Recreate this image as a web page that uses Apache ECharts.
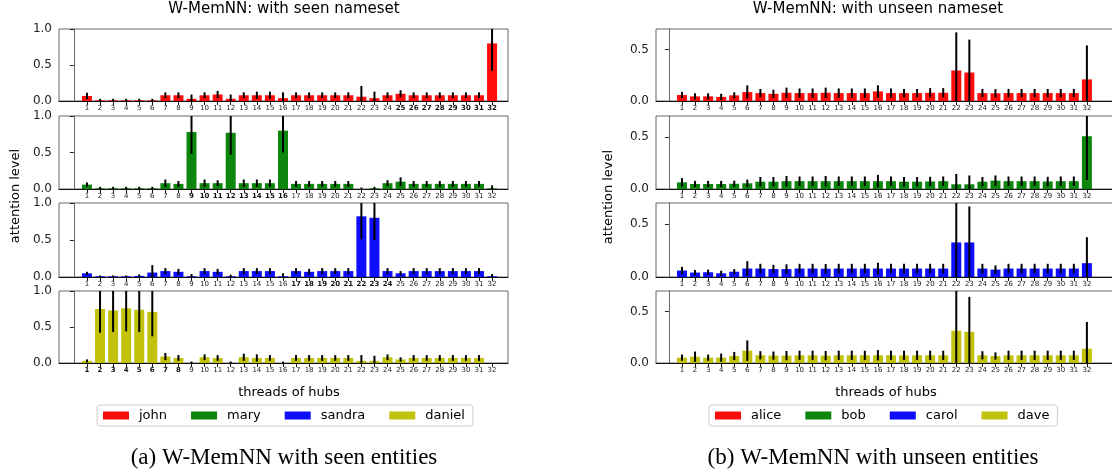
<!DOCTYPE html>
<html>
<head>
<meta charset="utf-8">
<script src="https://cdn.jsdelivr.net/npm/echarts@6/dist/echarts.min.js"></script>
<style>html,body{margin:0;padding:0;background:#fff}#c{width:1112px;height:471px}</style>
</head>
<body>
<div id="c"></div>
<script>
// ---- tick labels ----
const threads = [1,2,3,4,5,6,7,8,9,10,11,12,13,14,15,16,17,18,19,20,21,22,23,24,25,26,27,28,29,30,31,32];
const yTicksSeen = [0, 0.5, 1.0];
const yTicksUnseen = [0, 0.5];

// ---- seen nameset ----
const johnVals = [0.07,0.01,0.01,0.01,0.01,0.01,0.08,0.08,0.03,0.08,0.09,0.03,0.08,0.08,0.08,0.04,0.08,0.08,0.08,0.08,0.08,0.06,0.04,0.08,0.10,0.08,0.08,0.08,0.08,0.08,0.08,0.80];
const johnErr  = [0.045,0.02,0.02,0.02,0.02,0.02,0.04,0.04,0.06,0.04,0.05,0.06,0.04,0.05,0.05,0.08,0.04,0.04,0.04,0.04,0.04,0.15,0.09,0.04,0.05,0.04,0.04,0.04,0.04,0.04,0.04,0.38];
const johnBold = [25,26,27,28,29,30,31,32];

const maryVals = [0.06,0.01,0.01,0.01,0.01,0.01,0.08,0.07,0.78,0.08,0.08,0.77,0.08,0.08,0.08,0.80,0.07,0.07,0.07,0.07,0.07,0.00,0.01,0.08,0.10,0.07,0.07,0.07,0.07,0.07,0.07,0.01];
const maryErr  = [0.03,0.02,0.02,0.02,0.02,0.02,0.05,0.04,0.30,0.05,0.04,0.30,0.05,0.05,0.05,0.30,0.04,0.04,0.04,0.04,0.04,0.02,0.02,0.04,0.06,0.04,0.04,0.04,0.04,0.04,0.04,0.04];
const maryBold = [9,10,11,12,13,14,15,16];

const sandraVals = [0.05,0.01,0.01,0.01,0.015,0.06,0.08,0.07,0.01,0.08,0.07,0.01,0.08,0.08,0.08,0.01,0.08,0.07,0.08,0.08,0.08,0.82,0.80,0.08,0.05,0.08,0.08,0.08,0.08,0.08,0.08,0.01];
const sandraErr  = [0.02,0.01,0.01,0.01,0.02,0.10,0.04,0.04,0.03,0.04,0.04,0.02,0.04,0.04,0.04,0.04,0.04,0.04,0.04,0.04,0.04,0.31,0.30,0.04,0.03,0.04,0.04,0.04,0.04,0.04,0.04,0.03];
const sandraBold = [17,18,19,20,21,22,23,24];

const danielVals = [0.03,0.75,0.73,0.76,0.74,0.71,0.09,0.07,0.0,0.08,0.07,0.0,0.08,0.07,0.07,0.0,0.07,0.07,0.07,0.07,0.07,0.03,0.03,0.08,0.05,0.07,0.07,0.07,0.07,0.07,0.07,0.0];
const danielErr  = [0.02,0.33,0.30,0.32,0.31,0.34,0.05,0.04,0.02,0.04,0.04,0.02,0.05,0.05,0.04,0.02,0.04,0.04,0.04,0.04,0.04,0.08,0.07,0.04,0.03,0.04,0.04,0.04,0.04,0.04,0.04,0.0];
const danielBold = [1,2,3,4,5,6,7,8];

// ---- unseen nameset ----
const aliceVals = [0.058,0.045,0.045,0.04,0.055,0.087,0.077,0.07,0.08,0.077,0.077,0.08,0.077,0.077,0.077,0.093,0.077,0.077,0.077,0.08,0.08,0.297,0.277,0.077,0.075,0.077,0.077,0.077,0.077,0.077,0.077,0.21];
const aliceErr  = [0.03,0.03,0.03,0.03,0.03,0.065,0.04,0.04,0.05,0.045,0.045,0.05,0.045,0.045,0.045,0.06,0.045,0.04,0.04,0.045,0.045,0.37,0.32,0.04,0.04,0.04,0.04,0.04,0.04,0.04,0.04,0.33];

const bobVals = [0.064,0.048,0.048,0.048,0.05,0.055,0.07,0.07,0.075,0.075,0.075,0.075,0.075,0.075,0.075,0.075,0.075,0.07,0.07,0.072,0.075,0.045,0.045,0.07,0.08,0.075,0.075,0.075,0.072,0.075,0.075,0.506];
const bobErr  = [0.04,0.03,0.03,0.03,0.03,0.035,0.045,0.045,0.05,0.045,0.045,0.05,0.045,0.045,0.045,0.06,0.045,0.045,0.045,0.045,0.045,0.10,0.085,0.045,0.05,0.045,0.045,0.045,0.045,0.045,0.045,0.42];

const carolVals = [0.061,0.042,0.045,0.035,0.05,0.08,0.08,0.075,0.075,0.08,0.08,0.078,0.08,0.08,0.08,0.08,0.08,0.08,0.08,0.08,0.08,0.327,0.327,0.08,0.07,0.08,0.08,0.08,0.08,0.08,0.08,0.131];
const carolErr  = [0.035,0.025,0.025,0.025,0.025,0.07,0.045,0.04,0.045,0.045,0.045,0.045,0.045,0.045,0.045,0.055,0.045,0.045,0.045,0.045,0.045,0.38,0.34,0.045,0.04,0.045,0.045,0.045,0.045,0.045,0.045,0.245];

const daveVals = [0.052,0.061,0.052,0.052,0.068,0.12,0.075,0.072,0.072,0.075,0.075,0.072,0.075,0.075,0.075,0.075,0.075,0.075,0.075,0.075,0.075,0.313,0.303,0.075,0.068,0.075,0.075,0.075,0.075,0.075,0.075,0.139];
const daveErr  = [0.03,0.05,0.03,0.04,0.04,0.1,0.04,0.04,0.045,0.045,0.045,0.045,0.045,0.045,0.045,0.05,0.045,0.045,0.045,0.045,0.045,0.40,0.34,0.04,0.035,0.045,0.045,0.045,0.045,0.045,0.045,0.26];

const seenNames = ['john','mary','sandra','daniel'];
const unseenNames = ['alice','bob','carol','dave'];
const colors = ['#ff0000','#008000','#0000ff','#bfbf00'];

const panels = [
  { left: 59, width: 449, xmin: -1.14, xmax: 33.22, ymax: 1.0, yticks: yTicksSeen,
    rows: [
      {name:'john', vals: johnVals, err: johnErr, bold: johnBold},
      {name:'mary', vals: maryVals, err: maryErr, bold: maryBold},
      {name:'sandra', vals: sandraVals, err: sandraErr, bold: sandraBold},
      {name:'daniel', vals: danielVals, err: danielErr, bold: danielBold}
    ]},
  { left: 656, width: 480, xmin: -0.99, xmax: 35.76, ymax: 0.7, yticks: yTicksUnseen,
    rows: [
      {name:'alice', vals: aliceVals, err: aliceErr, bold: []},
      {name:'bob', vals: bobVals, err: bobErr, bold: []},
      {name:'carol', vals: carolVals, err: carolErr, bold: []},
      {name:'dave', vals: daveVals, err: daveErr, bold: []}
    ]}
];
const tops = [29, 116, 203, 291];
const heights = [72, 73, 74, 72];

const FONT = 'DejaVu Sans';
const grid = [], xAxis = [], yAxis = [], series = [];
let gi = 0;
panels.forEach(p => {
  p.rows.forEach((r, ri) => {
    grid.push({left: p.left, width: p.width, top: tops[ri], height: heights[ri],
      show: true, borderColor: '#666', borderWidth: 1, containLabel: false, outerBoundsMode: 'none'});
    const boldSet = new Set(r.bold);
    xAxis.push({type: 'value', gridIndex: gi, min: p.xmin, max: p.xmax,
      splitLine: {show: false},
      axisLine: {show: true, onZero: false, lineStyle: {color: '#111', width: 1}},
      axisTick: {show: true, length: 4, inside: false, customValues: threads, lineStyle: {color: '#111'}},
      axisLabel: {show: true, customValues: threads, margin: 4, fontSize: 7, fontFamily: FONT, color: '#222',
        formatter: v => boldSet.has(v) ? '{b|' + v + '}' : String(v),
        rich: {b: {fontWeight: 'bold', fontSize: 7, fontFamily: FONT, color: '#111'}}}
    });
    yAxis.push({type: 'value', gridIndex: gi, min: 0, max: p.ymax,
      splitLine: {show: false},
      axisLine: {show: true, lineStyle: {color: '#666', width: 1}},
      axisTick: {show: true, length: 4, customValues: p.yticks, lineStyle: {color: '#222'}},
      axisLabel: {show: true, customValues: p.yticks, margin: 7, fontSize: 12, fontFamily: FONT, color: '#222',
        formatter: v => Number(v).toFixed(1)}
    });
    const barData = threads.map((t, i) => [t, r.vals[i]]);
    const errData = threads.map((t, i) => [t, r.vals[i], r.err[i]]);
    series.push({type: 'bar', name: r.name, xAxisIndex: gi, yAxisIndex: gi, data: barData,
      barWidth: 10, itemStyle: {color: colors[ri], opacity: 0.95}, silent: true});
    const ymax = p.ymax;
    series.push({type: 'custom', xAxisIndex: gi, yAxisIndex: gi, data: errData, silent: true, z: 5,
      encode: {x: 0, y: 1},
      renderItem: (params, api) => {
        const x = api.value(0), v = api.value(1), e = api.value(2);
        if (!(e > 0)) return;
        const lo = Math.max(0, v - e), hi = Math.min(ymax, v + e);
        const a = api.coord([x, lo]), b = api.coord([x, hi]);
        return {type: 'line', shape: {x1: a[0], y1: a[1], x2: b[0], y2: b[1]},
          style: {stroke: '#000', lineWidth: 2}};
      }});
    gi++;
  });
});

const legendBase = {
  orient: 'horizontal', top: 405, icon: 'rect', itemWidth: 26, itemHeight: 8, itemGap: 24,
  borderColor: '#ccc', borderWidth: 1, borderRadius: 3, padding: [4, 8, 4, 6],
  backgroundColor: '#fff',
  textStyle: {fontFamily: FONT, fontSize: 13, color: '#000', padding: [0, 0, 0, 5]}
};

const textEl = (x, y, txt, size, family, rot) => ({
  type: 'text', x: x, y: y, rotation: rot || 0,
  style: {text: txt, fontSize: size, fontFamily: family, fill: '#000', textAlign: 'center', textVerticalAlign: 'middle'}
});

const option = {
  animation: false,
  backgroundColor: '#fff',
  grid, xAxis, yAxis, series,
  legend: [
    Object.assign({}, legendBase, {left: 97, data: seenNames}),
    Object.assign({}, legendBase, {left: 709, data: unseenNames})
  ],
  graphic: [
    textEl(284, 9, 'W-MemNN: with seen nameset', 15, FONT),
    textEl(878, 9, 'W-MemNN: with unseen nameset', 15, FONT),
    textEl(16, 196, 'attention level', 13, FONT, Math.PI / 2),
    textEl(609, 197, 'attention level', 13, FONT, Math.PI / 2),
    textEl(289, 393, 'threads of hubs', 13, FONT),
    textEl(886, 393, 'threads of hubs', 13, FONT),
    textEl(284, 458, '(a) W-MemNN with seen entities', 23, 'Liberation Serif'),
    textEl(873, 458, '(b) W-MemNN with unseen entities', 23, 'Liberation Serif')
  ]
};
const chart = echarts.init(document.getElementById('c'), null, {renderer: 'canvas'});
chart.setOption(option);
</script>
</body>
</html>
